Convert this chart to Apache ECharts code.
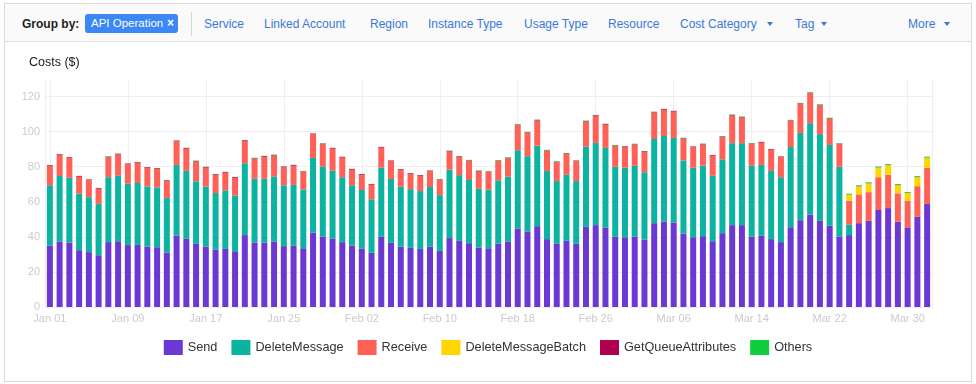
<!DOCTYPE html>
<html>
<head>
<meta charset="utf-8">
<script src="https://cdn.jsdelivr.net/npm/echarts@6/dist/echarts.min.js"></script>
<style>
  html, body { margin:0; padding:0; background:#fff; width:976px; height:384px; overflow:hidden;
    font-family: 'Liberation Sans', Arial, 'Helvetica Neue', sans-serif; }
  #frame { position:absolute; left:4px; top:3px; width:966px; height:377px; border:1px solid #dadada; z-index:0; }
  #hdr { position:absolute; left:5px; top:4px; width:966px; height:37px; background:#fafafa; border-bottom:1px solid #e2e2e2; z-index:2; }
  #chart { position:absolute; left:0; top:0; width:976px; height:384px; z-index:1; }
  .it { position:absolute; top:13px; font-size:12px; line-height:14px; color:#3b78d8; white-space:nowrap; }
  .gb { position:absolute; top:13px; left:17px; font-size:12px; line-height:14px; font-weight:bold; color:#222; }
  .pill { position:absolute; left:80px; top:10px; width:93px; height:19px; background:#3b87f5; border-radius:3px; color:#fff;
    font-size:11.5px; line-height:19px; }
  .pill span.t { position:absolute; left:6px; }
  .pill span.x { position:absolute; left:82px; font-weight:bold; font-size:12px; }
  .sep { position:absolute; left:186px; top:8px; width:1px; height:24px; background:#d8d8d8; }
  .tri { position:absolute; top:18px; width:0; height:0; border-left:3.5px solid transparent; border-right:3.5px solid transparent; border-top:4px solid #3b78d8; }
</style>
</head>
<body>
<div id="frame"></div>
<div id="hdr">
  <div class="gb">Group by:</div>
  <div class="pill"><span class="t">API Operation</span><span class="x">×</span></div>
  <div class="sep"></div>
  <div class="it" style="left:199px">Service</div>
  <div class="it" style="left:259px">Linked Account</div>
  <div class="it" style="left:365px">Region</div>
  <div class="it" style="left:423px">Instance Type</div>
  <div class="it" style="left:519px">Usage Type</div>
  <div class="it" style="left:603px">Resource</div>
  <div class="it" style="left:675px">Cost Category</div>
  <div class="tri" style="left:762px"></div>
  <div class="it" style="left:790px">Tag</div>
  <div class="tri" style="left:816px"></div>
  <div class="it" style="left:903px">More</div>
  <div class="tri" style="left:939px"></div>
</div>
<div id="chart"></div>
<script>
const categories = [
  'Jan 01','Jan 02','Jan 03','Jan 04','Jan 05','Jan 06','Jan 07','Jan 08','Jan 09','Jan 10',
  'Jan 11','Jan 12','Jan 13','Jan 14','Jan 15','Jan 16','Jan 17','Jan 18','Jan 19','Jan 20',
  'Jan 21','Jan 22','Jan 23','Jan 24','Jan 25','Jan 26','Jan 27','Jan 28','Jan 29','Jan 30',
  'Jan 31','Feb 01','Feb 02','Feb 03','Feb 04','Feb 05','Feb 06','Feb 07','Feb 08','Feb 09',
  'Feb 10','Feb 11','Feb 12','Feb 13','Feb 14','Feb 15','Feb 16','Feb 17','Feb 18','Feb 19',
  'Feb 20','Feb 21','Feb 22','Feb 23','Feb 24','Feb 25','Feb 26','Feb 27','Feb 28','Mar 01',
  'Mar 02','Mar 03','Mar 04','Mar 05','Mar 06','Mar 07','Mar 08','Mar 09','Mar 10','Mar 11',
  'Mar 12','Mar 13','Mar 14','Mar 15','Mar 16','Mar 17','Mar 18','Mar 19','Mar 20','Mar 21',
  'Mar 22','Mar 23','Mar 24','Mar 25','Mar 26','Mar 27','Mar 28','Mar 29','Mar 30','Mar 31',
  'Apr 01'
];
const send = [
  35.1,37.4,36.8,32.4,31.3,29.5,37.0,37.5,35.3,35.4,
  34.5,34.1,31.1,40.8,38.9,36.0,34.5,32.8,33.1,31.8,
  41.0,36.8,36.8,37.4,34.7,34.9,33.5,42.5,40.2,39.1,
  37.0,34.9,33.4,30.9,40.0,36.6,34.5,33.7,33.1,34.3,
  32.0,39.3,37.7,36.4,33.9,33.5,36.2,37.4,44.8,43.1,
  46.1,38.7,36.0,37.7,36.0,45.7,46.7,45.4,40.0,39.8,
  40.2,38.5,47.8,48.8,48.2,41.9,39.8,40.4,37.5,42.1,
  46.7,46.7,40.2,40.6,38.7,37.0,45.5,49.5,52.6,49.1,
  46.3,40.2,41.0,47.8,49.1,55.3,56.4,48.6,45.4,51.4,
  58.7
];
const deleteMessage = [
  34.3,37.3,36.9,32.2,31.3,29.3,37.0,37.3,35.0,35.3,
  34.3,34.1,31.0,40.2,38.7,35.7,34.1,32.2,33.4,31.8,
  41.0,36.3,36.3,37.1,34.7,34.7,33.5,42.5,39.8,38.6,
  37.0,34.5,33.3,30.5,39.4,36.4,34.1,33.5,33.0,34.1,
  31.8,39.0,37.5,36.0,33.5,33.5,36.0,36.9,44.6,42.9,
  45.9,38.9,35.8,37.7,35.8,45.7,46.9,45.3,40.0,39.6,
  40.3,38.3,48.0,48.7,48.2,41.7,39.6,40.2,37.3,42.1,
  46.7,46.7,40.3,40.4,38.9,37.0,45.7,49.7,52.2,49.5,
  46.1,39.8,5.9,0,0,0,0,0,0,0,
  0
];
const receive = [
  11.0,12.0,11.3,9.7,9.7,8.6,11.4,12.2,11.1,11.4,
  10.5,10.5,9.7,13.5,12.7,11.2,10.9,10.3,10.1,10.1,
  12.7,11.4,12.6,11.8,10.3,11.0,9.9,13.5,12.8,12.6,
  11.2,8.9,8.7,8.3,11.4,10.1,9.5,8.7,8.7,9.0,
  8.6,10.3,10.3,10.9,9.9,9.9,11.0,10.5,14.3,13.3,
  14.3,11.4,10.7,11.8,11.3,14.3,15.3,13.3,11.8,11.8,
  12.0,11.6,15.0,15.0,15.0,12.3,11.7,12.0,11.4,12.7,
  15.8,14.6,12.4,12.7,12.0,11.4,14.9,16.6,17.1,16.4,
  14.9,12.8,13.7,16.4,16.4,18.7,19.0,16.2,15.2,17.5,
  20.7
];
const deleteMessageBatch = [
  0,0,0,0,0,0,0,0,0,0,
  0,0,0,0,0,0,0,0,0,0,
  0,0,0,0,0,0,0,0,0,0,
  0,0,0,0,0,0,0,0,0,0,
  0,0,0,0,0,0,0,0,0,0,
  0,0,0,0,0,0,0,0,0,0,
  0,0,0,0,0,0,0,0,0,0,
  0,0,0,0,0,0,0,0,0,0,
  0,0,3.4,4.6,5.0,5.5,5.5,4.7,4.4,5.1,
  5.7
];
const getQueueAttributes = [
  .4,.4,.4,.4,.4,.4,.3,.4,.4,.4,
  .4,.4,.4,.4,.4,.3,.4,.4,.4,.4,
  .4,.3,.4,.3,.4,.4,.4,.4,.4,.4,
  .4,.4,.4,.4,.4,.4,.4,.4,.4,.4,
  .3,.3,.4,.3,.3,.3,.3,.3,.3,.3,
  .3,.3,.3,.4,.4,.3,.4,.4,.3,.4,
  .3,.4,.3,.4,.4,.3,.4,.3,.4,.3,
  .3,.3,.3,.4,.4,.4,.3,.3,.3,.3,
  .3,.3,.1,.1,.1,.1,.1,.1,.1,.1,
  .1
];
const others = [
  .1,.1,.1,.1,.1,.1,.3,.1,.1,.1,
  .1,.1,.1,.1,.1,.3,.1,.1,.1,.1,
  .1,.3,.1,.3,.1,.1,.1,.1,.1,.1,
  .1,.1,.1,.1,.1,.1,.1,.1,.1,.1,
  .3,.3,.1,.3,.3,.3,.3,.3,.3,.3,
  .3,.3,.3,.1,.1,.3,.1,.1,.3,.1,
  .3,.1,.3,.1,.1,.3,.1,.3,.1,.3,
  .3,.3,.3,.1,.1,.1,.3,.3,.3,.3,
  .3,.3,.5,.5,.5,.5,.5,.5,.5,.5,
  .5
];
const yTicks = [0, 20, 40, 60, 80, 100, 120];
const xGridIndices = [0, 8, 16, 24, 32, 40, 48, 56, 64, 72, 80, 88];

const seriesNames = ['Send','DeleteMessage','Receive','DeleteMessageBatch','GetQueueAttributes','Others'];
const seriesData = [send, deleteMessage, receive, deleteMessageBatch, getQueueAttributes, others];
const colors = ['#6b38d4','#0bb3a0','#ff6157','#ffd600','#b0004f','#10cc3f'];

const chart = echarts.init(document.getElementById('chart'), null, {renderer:'canvas'});
const FONT = "'Liberation Sans', Arial, sans-serif";

const series = [{
  type: 'line', name: '_grid', data: [], silent: true, z: 0,
  markLine: {
    silent: true, symbol: ['none','none'], animation: false, z: 0, zlevel: 0,
    label: {show: false},
    lineStyle: {color: '#efefef', type: 'solid', width: 1},
    emphasis: {disabled: true},
    data: xGridIndices.map(i => ({xAxis: i}))
  }
}];
seriesNames.forEach((n, k) => {
  series.push({
    type: 'bar', name: n, stack: 'total', data: seriesData[k], barWidth: 6, z: 3,
    itemStyle: {color: colors[k]}
  });
});

chart.setOption({
  animation: false,
  color: colors,
  textStyle: {fontFamily: FONT},
  title: {text: 'Costs ($)', left: 24, top: 51,
    textStyle: {fontSize: 12.5, fontWeight: 'normal', color: '#16191f', fontFamily: FONT}},
  grid: {left: 45, right: 44, top: 79, bottom: 77, containLabel: false},
  legend: {
    data: seriesNames, left: 'center', top: 335, icon: 'rect',
    itemWidth: 19, itemHeight: 15, itemGap: 14,
    textStyle: {fontSize: 12.7, color: '#333', fontFamily: FONT}
  },
  xAxis: {
    type: 'category', data: categories, boundaryGap: true,
    axisLine: {show: false}, axisTick: {show: false},
    axisLabel: {interval: 7, color: '#cbcbcb', fontSize: 11, margin: 6, fontFamily: FONT},
    splitLine: {show: false}
  },
  yAxis: [{
    type: 'value', min: 0, max: 130, interval: 20,
    axisLine: {show: true, lineStyle: {color: '#efefef'}},
    axisTick: {show: false},
    axisLabel: {color: '#cbcbcb', fontSize: 11, margin: 5, showMaxLabel: false, fontFamily: FONT,
      formatter: v => (yTicks.indexOf(v) >= 0 ? String(v) : '')},
    splitLine: {show: true, showMaxLine: false, lineStyle: {color: '#efefef'}}
  }, {
    type: 'value', min: 0, max: 130, interval: 20, position: 'right',
    axisLine: {show: true, lineStyle: {color: '#efefef'}},
    axisTick: {show: false}, axisLabel: {show: false}, splitLine: {show: false}
  }],
  series: series
});
</script>
</body>
</html>
